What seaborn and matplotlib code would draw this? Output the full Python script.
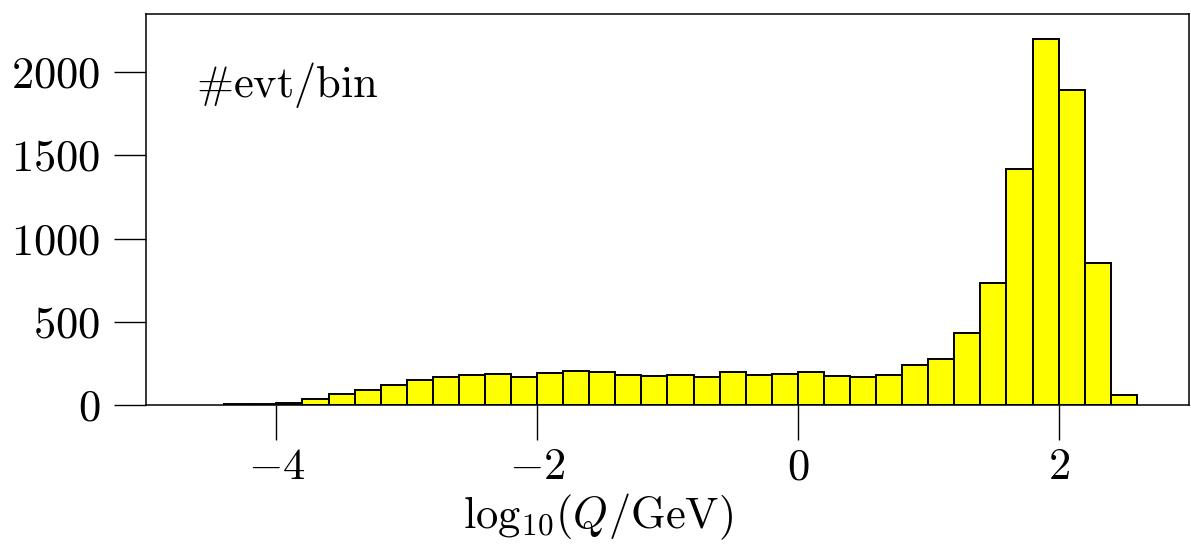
import numpy as np
import pandas as pd
import matplotlib
matplotlib.use('Agg')
import matplotlib.pyplot as plt
import seaborn as sns

# bin counts, bins of width 0.2 starting at log10(Q/GeV) = -4.4
bin_start = -4.4
bin_width = 0.2
counts = [4, 5, 14, 36, 64, 92, 120, 148, 168, 182, 184, 166,
          192, 204, 196, 178, 176, 180, 168, 196, 180, 184,
          200, 172, 166, 180, 238, 276, 432, 735, 1416, 2200,
          1892, 853, 60]

x_ticks = [-4, -2, 0, 2]
x_tick_labels = [r'$-4$', r'$-2$', r'$0$', r'$2$']
y_ticks = [0, 500, 1000, 1500, 2000]
y_tick_labels = [r'$0$', r'$500$', r'$1000$', r'$1500$', r'$2000$']

edges = bin_start + bin_width * np.arange(len(counts) + 1)
centers = (edges[:-1] + edges[1:]) / 2
df = pd.DataFrame({'logQ': centers, 'n': counts})

sns.set_style('ticks')
plt.rcParams['font.family'] = 'serif'
plt.rcParams['font.serif'] = ['cmr10', 'DejaVu Serif']
plt.rcParams['mathtext.fontset'] = 'cm'
plt.rcParams['axes.formatter.use_mathtext'] = True
plt.rcParams['axes.linewidth'] = 1.0
plt.rcParams['text.color'] = 'black'
plt.rcParams['axes.labelcolor'] = 'black'
plt.rcParams['xtick.color'] = 'black'
plt.rcParams['ytick.color'] = 'black'

fig = plt.figure(figsize=(11.91, 5.5), dpi=100)
ax = fig.add_axes([0.1226, 0.2636, 0.8757, 0.7109])

sns.histplot(data=df, x='logQ', weights='n', bins=list(edges), ax=ax,
             color='#ffff00', edgecolor='black', linewidth=1.4, alpha=1.0)

ax.set_xlim(-5, 3)
ax.set_ylim(0, 2350)
ax.set_xticks(x_ticks)
ax.set_xticklabels(x_tick_labels)
ax.set_yticks(y_ticks)
ax.set_yticklabels(y_tick_labels)
ax.tick_params(axis='x', direction='out', length=25, width=1.0, pad=6, labelsize=32)
ax.tick_params(axis='y', direction='out', length=23, width=1.0, pad=10, labelsize=32)
for s in ax.spines.values():
    s.set_visible(True)
    s.set_color('black')
    s.set_linewidth(1.1)

ax.set_ylabel('')
ax.set_xlabel(r'$\mathrm{log}_{10}(Q/\mathrm{GeV})$', fontsize=32)
ax.xaxis.set_label_coords(0.433, -0.3146)
ax.xaxis.label.set_va('baseline')

ax.text(0.048, 0.788, r'$\#\mathrm{evt/bin}$', transform=ax.transAxes,
        fontsize=32, ha='left', va='baseline')

fig.savefig('out.png', dpi=100)
plt.close(fig)
